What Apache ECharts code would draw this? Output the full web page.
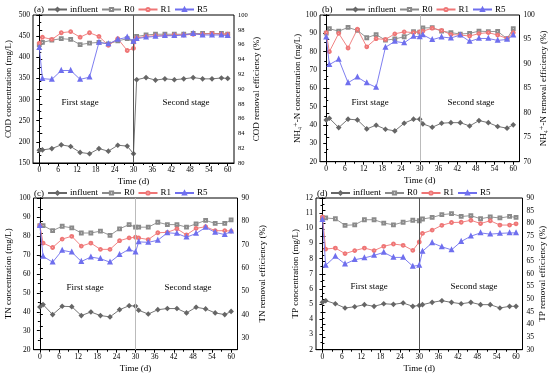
<!DOCTYPE html>
<html><head><meta charset="utf-8">
<script src="https://cdn.jsdelivr.net/npm/echarts@6/dist/echarts.min.js"></script>
<style>html,body{margin:0;padding:0;background:#fff}#c{width:550px;height:378px}</style>
</head><body><div id="c"></div>
<script>
const days = [0,1,4,7,10,13,16,19,22,25,28,30,31,34,37,40,43,46,49,52,55,58,60];
const seriesNames = ['influent','R0','R1','R5'];
const xTickLabels = [0,6,12,18,24,30,36,42,48,54,60];

const codInfluent = [180,181,184,193,189,175,172,184,178,192,190,172,347,352,346,349,347,349,352,349,349,351,350];
const codR0 = [96.0,96.3,96.6,96.8,96.7,96.0,96.2,96.3,96.1,96.5,96.8,96.4,97.1,97.3,97.4,97.4,97.4,97.4,97.5,97.5,97.5,97.5,97.4];
const codR1 = [96.2,97.0,96.7,97.6,97.75,97.0,97.6,97.1,95.9,96.8,95.2,95.5,96.9,97.1,97.2,97.2,97.3,97.3,97.4,97.4,97.5,97.4,97.4];
const codR5 = [95.6,91.4,91.3,92.5,92.5,91.3,91.6,96.3,96.1,96.7,97.0,96.45,96.8,97.0,97.1,97.2,97.2,97.3,97.5,97.3,97.3,97.3,97.2];

const nh4Influent = [42.8,43.7,38.6,43.2,42.8,37.9,39.9,37.7,36.8,41.0,43.2,43.2,40.6,38.8,41.0,41.3,41.3,39.5,42.4,41.3,39.2,38.3,40.1];
const nh4R0 = [96.3,97.2,96.7,97.45,96.85,95.35,96.0,94.85,95.1,95.55,96.6,96.5,97.35,97.4,96.7,96.4,96.1,96.25,96.7,96.6,96.65,95.15,97.2];
const nh4R1 = [96.4,92.5,96.25,93.25,97.1,93.5,95.15,95.0,96.15,96.55,96.4,96.55,96.7,97.3,96.85,96.0,95.9,95.7,96.2,96.4,95.9,95.2,96.4];
const nh4R5 = [95.5,89.85,90.95,86.15,87.3,86.1,85.2,93.4,94.6,94.3,95.65,95.55,95.95,94.95,95.5,95.3,95.9,94.6,95.2,95.2,94.8,95.0,95.9];

const tnInfluent = [42.5,43.8,38.5,42.9,42.7,38.0,39.9,38.0,37.3,41.1,43.2,43.0,40.8,38.8,41.1,41.7,41.7,39.4,42.4,41.5,39.4,38.5,40.2];
const tnR0 = [78.2,78.2,76.0,77.9,77.2,75.0,75.0,75.8,74.0,76.8,78.6,77.5,77.5,77.5,79.6,78.6,78.6,77.5,78.9,80.4,79.1,79.1,80.6];
const tnR1 = [78.2,70.7,68.8,72.4,73.6,69.4,70.7,68.0,68.0,71.7,72.9,73.2,72.9,72.2,75.1,75.3,76.8,74.2,77.0,77.7,76.0,76.0,75.8];
const tnR5 = [78.2,65.0,62.5,67.6,66.8,62.8,64.7,64.0,62.5,65.7,68.1,66.8,71.2,71.0,71.9,75.1,74.8,73.2,74.8,77.4,75.3,74.3,75.8];

const tpInfluent = [5.12,5.23,5.03,4.75,4.83,4.97,4.86,5.03,4.99,5.08,4.86,4.92,4.97,5.12,5.23,5.12,5.03,5.12,4.97,4.97,4.75,4.86,4.86];
const tpR0 = [82.1,82.1,81.8,79.2,79.4,81.4,81.4,80.1,79.4,80.4,81.2,81.0,81.7,82.3,83.4,83.8,82.7,83.0,81.8,82.5,82.1,82.7,82.3];
const tpR1 = [82.5,69.8,70.2,68.0,69.2,70.2,69.2,70.9,71.8,71.3,69.3,72.6,76.0,77.3,79.2,80.3,80.4,81.2,79.9,81.0,79.3,79.3,79.8];
const tpR5 = [81.5,63.4,66.9,63.9,65.6,66.3,67.3,68.5,66.5,66.5,63.0,63.4,68.9,72.3,70.7,69.5,72.8,74.9,76.2,75.7,76.0,76.2,76.2];

const FONT = '"Liberation Serif", "DejaVu Serif", serif';
const COLORS = {influent:'#666666', R0:'#8a8a8a', R1:'#ef7676', R5:'#6f6fee'};
const SYMBOLS = {influent:'emptyDiamond', R0:'emptyRect', R1:'emptyCircle', R5:'emptyTriangle'};

const panels = [
  {tag:'(a)', grid:{left:33,top:15,width:201,height:148}, l:[150,500,50], r:[80,100,2], rStep:1,
   lName:'COD concentration (mg/L)', rName:'COD removal efficiency (%)', lGap:20, rGap:16, rFont:6.5,
   data:[codInfluent,codR0,codR1,codR5], vline:'#555', legend:{left:47,top:5}, tagPos:[34,5],
   s1:[80,103], s2:[186,103]},
  {tag:'(b)', grid:{left:320,top:15,width:199.5,height:146.7}, l:[20,100,10], r:[70,100,5], rStep:1,
   lName:'NH\u2084\u207A-N concentration (mg/L)', rName:'NH\u2084\u207A-N removal efficiency (%)', lGap:17, rGap:15, rFont:7.5,
   data:[nh4Influent,nh4R0,nh4R1,nh4R5], vline:'#bbbbbb', legend:{left:345,top:5}, tagPos:[322,5],
   s1:[370,103], s2:[471,103]},
  {tag:'(c)', grid:{left:33.5,top:198,width:204,height:151.7}, l:[20,100,10], r:[25,90,5], rStep:2,
   lName:'TN concentration (mg/L)', rName:'TN removal efficiency (%)', lGap:20, rGap:21, rFont:7.5,
   data:[tnInfluent,tnR0,tnR1,tnR5], vline:'#bbbbbb', legend:{left:47,top:188.5}, tagPos:[34,189],
   s1:[85,288], s2:[188,288]},
  {tag:'(d)', grid:{left:316,top:198,width:206.5,height:151.7}, l:[2,12,1], r:[30,90,5], rStep:1,
   lName:'TP concentration (mg/L)', rName:'TP removal efficiency (%)', lGap:16, rGap:14.5, rFont:7.5,
   data:[tpInfluent,tpR0,tpR1,tpR5], vline:'#555', legend:{left:330,top:188.5}, tagPos:[317,189],
   s1:[369,287], s2:[474,287]}
];

const option = {animation:false, backgroundColor:'#fff', textStyle:{fontFamily:FONT},
  grid:[], xAxis:[], yAxis:[], series:[], legend:[], graphic:[]};

const minorTicks = [];
for (let d = 3; d <= 60; d += 6) minorTicks.push(d);

panels.forEach((p, i) => {
  option.grid.push(Object.assign({show:true, borderColor:'#000', borderWidth:1, containLabel:false}, p.grid));
  const xi = option.xAxis.length;
  option.xAxis.push({type:'value', gridIndex:i, min:-2, max:62, position:'bottom',
    name:'Time (d)', nameLocation:'middle', nameGap:14,
    nameTextStyle:{fontFamily:FONT, fontSize:9, color:'#000'},
    axisLine:{lineStyle:{color:'#000', width:1}},
    axisTick:{show:true, length:3, customValues:xTickLabels, lineStyle:{color:'#000'}},
    axisLabel:{customValues:xTickLabels, margin:3, fontFamily:FONT, fontSize:7.5, color:'#000'},
    splitLine:{show:false}});
  option.xAxis.push({type:'value', gridIndex:i, min:-2, max:62, position:'bottom',
    axisLine:{show:false}, axisLabel:{show:false}, splitLine:{show:false},
    axisTick:{show:true, length:2, customValues:minorTicks, lineStyle:{color:'#000'}}});
  const yl = option.yAxis.length;
  option.yAxis.push({type:'value', gridIndex:i, position:'left', min:p.l[0], max:p.l[1], interval:p.l[2],
    name:p.lName, nameLocation:'middle', nameGap:p.lGap, nameRotate:90,
    nameTextStyle:{fontFamily:FONT, fontSize:9, color:'#000'},
    axisLine:{show:true, lineStyle:{color:'#000'}},
    axisTick:{length:3, lineStyle:{color:'#000'}},
    minorTick:{show:true, splitNumber:2, length:2, lineStyle:{color:'#000'}},
    axisLabel:{margin:3, fontFamily:FONT, fontSize:7.5, color:'#000'},
    splitLine:{show:false}, minorSplitLine:{show:false}});
  option.yAxis.push({type:'value', gridIndex:i, position:'right', min:p.r[0], max:p.r[1], interval:p.r[2],
    name:p.rName, nameLocation:'middle', nameGap:p.rGap, nameRotate:90,
    nameTextStyle:{fontFamily:FONT, fontSize:9, color:'#000'},
    axisLine:{show:true, lineStyle:{color:'#000'}},
    axisTick:{length:3, lineStyle:{color:'#000'}},
    minorTick:{show:p.rStep===1, splitNumber:2, length:2, lineStyle:{color:'#000'}},
    axisLabel:{margin:4, fontFamily:FONT, fontSize:p.rFont, color:'#000',
      formatter: v => (p.rStep===2 && v % 10 !== 0) ? '' : String(v)},
    splitLine:{show:false}, minorSplitLine:{show:false}});
  seriesNames.forEach((name, k) => {
    const s = {type:'line', name:name, xAxisIndex:xi, yAxisIndex: k===0 ? yl : yl+1,
      data: days.map((d, j) => [d, p.data[k][j]]),
      symbol:SYMBOLS[name], symbolSize:2.8, showSymbol:true,
      lineStyle:{color:COLORS[name], width:0.9}, itemStyle:{color:COLORS[name], borderWidth:0.6},
      z: k===0 ? 3 : 2 + k};
    if (k === 0) {
      s.markLine = {silent:true, symbol:'none', label:{show:false},
        lineStyle:{color:p.vline, width:1, type:'solid'}, data:[{xAxis:30}]};
    }
    option.series.push(s);
  });
  option.legend.push({data:seriesNames, left:p.legend.left, top:p.legend.top, orient:'horizontal',
    itemWidth:19, itemHeight:4, itemGap:3, padding:0,
    textStyle:{fontFamily:FONT, fontSize:9, color:'#000', padding:[0,0,0,-2]}});
  option.graphic.push({type:'text', left:p.tagPos[0], top:p.tagPos[1],
    style:{text:p.tag, font:'9px ' + FONT, fill:'#000'}});
  option.graphic.push({type:'text', x:p.s1[0], y:p.s1[1],
    style:{text:'First stage', font:'9px ' + FONT, fill:'#000', align:'center', verticalAlign:'middle'}});
  option.graphic.push({type:'text', x:p.s2[0], y:p.s2[1],
    style:{text:'Second stage', font:'9px ' + FONT, fill:'#000', align:'center', verticalAlign:'middle'}});
});

const chart = echarts.init(document.getElementById('c'), null, {renderer:'canvas'});
chart.setOption(option);
</script>
</body></html>
